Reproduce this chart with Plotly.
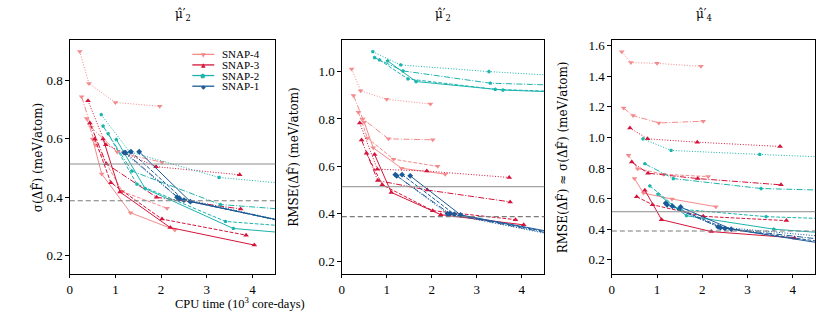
import plotly.graph_objects as go
from plotly.subplots import make_subplots

# line styles, same order as the lists below: dotted, dash-dot, dashed, solid
STYLES = ["1px,1.7px", "6px,1.7px,1px,1.7px", "3.7px,1.7px", "solid"]

MODELS = ["SNAP-4", "SNAP-3", "SNAP-2", "SNAP-1"]
COLORS = ["#f58a8c", "#d4143a", "#1db3ad", "#1b5a98"]
SYMBOLS = ["triangle-down", "triangle-up", "pentagon", "diamond"]
SYMBOL_SIZES = [5, 5, 4, 4.5]
LEGEND_GLYPHS = ["▼", "▲", "⬟", "◆"]

# CPU time (10^3 core-days), one list per line style
snap4_x = [[0.22, 0.42, 1.00, 1.97], [0.26, 0.47, 1.04, 2.02], [0.37, 0.57, 1.15, 2.13], [0.50, 0.70, 1.33, 2.30]]
snap3_x = [[0.40, 0.79, 1.89, 3.72], [0.44, 0.80, 1.90, 3.74], [0.55, 0.90, 2.02, 3.86], [0.73, 1.10, 2.20, 4.04]]
snap2_x = [[0.69, 1.31, 3.27, 6.2], [0.73, 1.36, 3.30, 6.3], [0.84, 1.47, 3.41, 6.5], [1.02, 1.65, 3.58, 6.8]]
snap1_x = [[1.19, 2.35, 5.5, 10.8], [1.22, 2.40, 5.6, 11.0], [1.34, 2.50, 5.8, 11.3], [1.52, 2.64, 6.0, 11.6]]

# panel 1: sigma(dF) for mu2'
snap4_p1 = [[0.90, 0.79, 0.725, 0.712], [0.745, 0.64, 0.555, 0.52], [0.67, 0.58, 0.42, 0.362], [0.60, 0.48, 0.347, 0.288]]
snap3_p1 = [[0.731, 0.58, 0.505, 0.477], [0.655, 0.515, 0.40, 0.36], [0.60, 0.45, 0.325, 0.27], [0.60, 0.418, 0.296, 0.236]]
snap2_p1 = [[0.683, 0.556, 0.468, 0.425], [0.644, 0.49, 0.375, 0.34], [0.618, 0.445, 0.317, 0.28], [0.598, 0.43, 0.293, 0.25]]
snap1_p1 = [[0.553, 0.40, 0.29, 0.25], [0.553, 0.395, 0.285, 0.245], [0.556, 0.39, 0.28, 0.24], [0.556, 0.385, 0.275, 0.235]]

# panel 2: RMSE(dF) for mu2'
snap4_p2 = [[1.011, 0.919, 0.883, 0.863], [0.899, 0.80, 0.716, 0.712], [0.828, 0.72, 0.63, 0.60], [0.786, 0.678, 0.592, 0.567]]
snap3_p2 = [[0.783, 0.588, 0.58, 0.553], [0.711, 0.54, 0.50, 0.45], [0.655, 0.522, 0.413, 0.375], [0.65, 0.49, 0.396, 0.353]]
snap2_p2 = [[1.084, 1.028, 1.0, 0.967], [1.059, 1.003, 0.951, 0.934], [1.049, 0.969, 0.925, 0.905], [1.045, 0.958, 0.922, 0.90]]
snap1_p2 = [[0.565, 0.40, 0.28, 0.24], [0.56, 0.40, 0.28, 0.24], [0.565, 0.398, 0.278, 0.238], [0.56, 0.395, 0.275, 0.235]]

# panel 3: RMSE(dF) ~ sigma(dF) for mu4'
snap4_p3 = [[1.561, 1.49, 1.485, 1.465], [1.192, 1.143, 1.095, 1.106], [0.883, 0.796, 0.759, 0.744], [0.731, 0.636, 0.597, 0.547]]
snap3_p3 = [[1.062, 0.991, 0.969, 0.941], [0.839, 0.766, 0.731, 0.69], [0.612, 0.56, 0.484, 0.456], [0.655, 0.462, 0.384, 0.343]]
snap2_p3 = [[0.991, 0.915, 0.889, 0.853], [0.828, 0.731, 0.666, 0.642], [0.683, 0.532, 0.482, 0.45], [0.629, 0.488, 0.40, 0.33]]
snap1_p3 = [[0.57, 0.415, 0.33, 0.28], [0.56, 0.41, 0.30, 0.26], [0.55, 0.405, 0.27, 0.23], [0.545, 0.40, 0.245, 0.21]]

REF_SOLID = 0.514
REF_DASHED = 0.388

xs = [snap4_x, snap3_x, snap2_x, snap1_x]
panels = [
    [snap4_p1, snap3_p1, snap2_p1, snap1_p1],
    [snap4_p2, snap3_p2, snap2_p2, snap1_p2],
    [snap4_p3, snap3_p3, snap2_p3, snap1_p3],
]
y_ranges = [[0.138, 0.939], [0.147, 1.133], [0.109, 1.637]]
y_ticks = [[0.2, 0.4, 0.6, 0.8], [0.2, 0.4, 0.6, 0.8, 1.0], [0.2, 0.4, 0.6, 0.8, 1.0, 1.2, 1.4, 1.6]]
x_domains = [[0.0806, 0.3289], [0.4091, 0.6538], [0.7353, 0.9811]]
Y_DOMAIN = [0.1768, 0.8846]

SERIF = "Liberation Serif"
MATH = "DejaVu Serif"
W, H = 831, 332

fig = make_subplots(rows=1, cols=3)

for p, panel in enumerate(panels):
    for m in range(4):
        for s in range(4):
            fig.add_trace(go.Scatter(
                x=xs[m][s], y=panel[m][s], mode="lines+markers",
                name=MODELS[m], showlegend=False,
                line=dict(color=COLORS[m], width=1, dash=STYLES[s]),
                marker=dict(symbol=SYMBOLS[m], size=SYMBOL_SIZES[m], color=COLORS[m], line=dict(width=0)),
            ), row=1, col=p + 1)
    fig.add_hline(y=REF_SOLID, line_width=1, line_color="#8c8c8c", row=1, col=p + 1)
    fig.add_hline(y=REF_DASHED, line_width=1.2, line_dash="5px,3px", line_color="#7a7a7a", row=1, col=p + 1)

for p in range(3):
    fig.update_xaxes(domain=x_domains[p], range=[0, 4.5], tickvals=[0, 1, 2, 3, 4],
                     showline=True, mirror=True, linecolor="black", linewidth=1,
                     ticks="outside", ticklen=3.5, tickcolor="black", showgrid=False, zeroline=False,
                     tickfont=dict(family=SERIF, size=13, color="black"), row=1, col=p + 1)
    fig.update_yaxes(domain=Y_DOMAIN, range=y_ranges[p], tickvals=y_ticks[p],
                     tickformat=".1f",
                     showline=True, mirror=True, linecolor="black", linewidth=1,
                     ticks="outside", ticklen=3.5, tickcolor="black", showgrid=False, zeroline=False,
                     tickfont=dict(family=SERIF, size=13, color="black"), row=1, col=p + 1)

titles = ["μ̂′<sub>2</sub>", "μ̂′<sub>2</sub>", "μ̂′<sub>4</sub>"]
ylabels = ["σ(ΔF̂) (meV/atom)", "RMSE(ΔF̂) (meV/atom)", "RMSE(ΔF̂) ≈ σ(ΔF̂) (meV/atom)"]
ylabel_x = [25 / W, 292 / W, 571 / W]

for p in range(3):
    fig.add_annotation(text=titles[p], x=sum(x_domains[p]) / 2, y=1 - 13 / H, xref="paper", yref="paper",
                       showarrow=False, yanchor="middle", font=dict(family=MATH, size=12, color="black"))
    fig.add_annotation(text=ylabels[p], x=ylabel_x[p], y=sum(Y_DOMAIN) / 2, xref="paper", yref="paper",
                       showarrow=False, textangle=-90, font=dict(family=MATH, size=12, color="black"))

fig.add_annotation(text="CPU time (10<sup>3</sup> core-days)", x=sum(x_domains[0]) / 2, y=1 - 303 / H,
                   xref="paper", yref="paper", showarrow=False, yanchor="middle",
                   font=dict(family=SERIF, size=12.5, color="black"))

# hand-built legend (plotly's own legend rows are too tall for this layout)
LEG_X0, LEG_X1, LEG_TEXT_X = 190 / W, 212 / W, 218 / W
LEG_ROWS = [52.7, 63.3, 74.0, 84.7]
for m in range(4):
    yy = 1 - LEG_ROWS[m] / H
    fig.add_shape(type="line", xref="paper", yref="paper", x0=LEG_X0, x1=LEG_X1, y0=yy, y1=yy,
                  line=dict(color=COLORS[m], width=1.3))
    fig.add_annotation(text=LEGEND_GLYPHS[m], x=(LEG_X0 + LEG_X1) / 2, y=yy, xref="paper", yref="paper",
                       showarrow=False, xanchor="center", yanchor="middle",
                       font=dict(family="DejaVu Sans", size=6, color=COLORS[m]))
    fig.add_annotation(text=MODELS[m], x=LEG_TEXT_X, y=yy, xref="paper", yref="paper",
                       showarrow=False, xanchor="left", yanchor="middle",
                       font=dict(family=SERIF, size=11, color="black"))

fig.update_layout(
    width=W, height=H,
    margin=dict(l=0, r=0, t=0, b=0),
    plot_bgcolor="white", paper_bgcolor="white",
    showlegend=False,
)

fig.write_html("out.html", config={"displayModeBar": False},
               post_script="document.body.style.margin='0';")
